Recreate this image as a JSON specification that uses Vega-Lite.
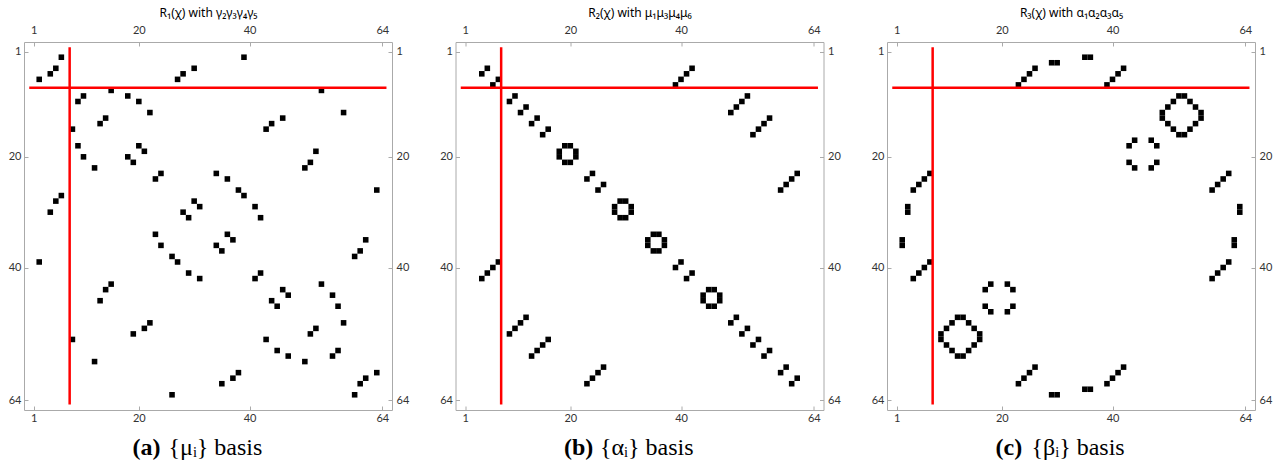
{
  "$schema": "https://vega.github.io/schema/vega-lite/v6.json",
  "background": "white",
  "padding": {"left": 7, "top": 5, "right": 5, "bottom": 0},
  "datasets": {
    "cells": [
      {"panel":"a","col":6,"row":2},{"panel":"a","col":5,"row":4},{"panel":"a","col":4,"row":5},{"panel":"a","col":2,"row":6},{"panel":"a","col":27,"row":6},{"panel":"a","col":28,"row":5},{"panel":"a","col":30,"row":4},{"panel":"a","col":15,"row":8},{"panel":"a","col":10,"row":9},{"panel":"a","col":9,"row":10},{"panel":"a","col":18,"row":9},{"panel":"a","col":20,"row":10},{"panel":"a","col":22,"row":12},{"panel":"a","col":14,"row":13},{"panel":"a","col":13,"row":14},{"panel":"a","col":8,"row":15},{"panel":"a","col":9,"row":18},{"panel":"a","col":20,"row":18},{"panel":"a","col":21,"row":19},{"panel":"a","col":10,"row":20},{"panel":"a","col":18,"row":20},{"panel":"a","col":19,"row":21},{"panel":"a","col":12,"row":22},{"panel":"a","col":24,"row":23},{"panel":"a","col":23,"row":24},{"panel":"a","col":6,"row":27},{"panel":"a","col":5,"row":28},{"panel":"a","col":4,"row":30},{"panel":"a","col":30,"row":28},{"panel":"a","col":31,"row":29},{"panel":"a","col":28,"row":30},{"panel":"a","col":29,"row":31},
      {"panel":"a","col":39,"row":2},{"panel":"a","col":53,"row":8},{"panel":"a","col":57,"row":12},{"panel":"a","col":46,"row":13},{"panel":"a","col":44,"row":14},{"panel":"a","col":43,"row":15},{"panel":"a","col":52,"row":19},{"panel":"a","col":51,"row":21},{"panel":"a","col":50,"row":22},{"panel":"a","col":34,"row":23},{"panel":"a","col":36,"row":24},{"panel":"a","col":38,"row":26},{"panel":"a","col":39,"row":27},{"panel":"a","col":41,"row":29},{"panel":"a","col":42,"row":31},{"panel":"a","col":63,"row":26},
      {"panel":"a","col":23,"row":34},{"panel":"a","col":24,"row":36},{"panel":"a","col":26,"row":38},{"panel":"a","col":27,"row":39},{"panel":"a","col":29,"row":41},{"panel":"a","col":31,"row":42},{"panel":"a","col":2,"row":39},{"panel":"a","col":15,"row":43},{"panel":"a","col":14,"row":44},{"panel":"a","col":13,"row":46},{"panel":"a","col":22,"row":50},{"panel":"a","col":21,"row":51},{"panel":"a","col":19,"row":52},{"panel":"a","col":8,"row":53},{"panel":"a","col":12,"row":57},{"panel":"a","col":26,"row":63},
      {"panel":"a","col":36,"row":34},{"panel":"a","col":37,"row":35},{"panel":"a","col":34,"row":36},{"panel":"a","col":35,"row":37},{"panel":"a","col":61,"row":35},{"panel":"a","col":60,"row":37},{"panel":"a","col":59,"row":38},{"panel":"a","col":42,"row":41},{"panel":"a","col":41,"row":42},{"panel":"a","col":53,"row":43},{"panel":"a","col":46,"row":44},{"panel":"a","col":47,"row":45},{"panel":"a","col":44,"row":46},{"panel":"a","col":45,"row":47},{"panel":"a","col":55,"row":45},{"panel":"a","col":56,"row":47},{"panel":"a","col":57,"row":50},{"panel":"a","col":52,"row":51},{"panel":"a","col":51,"row":52},{"panel":"a","col":43,"row":53},{"panel":"a","col":45,"row":55},{"panel":"a","col":47,"row":56},{"panel":"a","col":50,"row":57},{"panel":"a","col":55,"row":56},{"panel":"a","col":56,"row":55},{"panel":"a","col":38,"row":59},{"panel":"a","col":37,"row":60},{"panel":"a","col":35,"row":61},{"panel":"a","col":63,"row":59},{"panel":"a","col":61,"row":60},{"panel":"a","col":60,"row":61},{"panel":"a","col":59,"row":63},

      {"panel":"b","col":4,"row":5},{"panel":"b","col":5,"row":4},{"panel":"b","col":6,"row":7},{"panel":"b","col":7,"row":6},{"panel":"b","col":9,"row":10},{"panel":"b","col":10,"row":9},{"panel":"b","col":11,"row":12},{"panel":"b","col":12,"row":11},{"panel":"b","col":13,"row":14},{"panel":"b","col":14,"row":13},{"panel":"b","col":15,"row":16},{"panel":"b","col":16,"row":15},
      {"panel":"b","col":19,"row":18},{"panel":"b","col":20,"row":18},{"panel":"b","col":18,"row":19},{"panel":"b","col":21,"row":19},{"panel":"b","col":18,"row":20},{"panel":"b","col":21,"row":20},{"panel":"b","col":19,"row":21},{"panel":"b","col":20,"row":21},
      {"panel":"b","col":23,"row":24},{"panel":"b","col":24,"row":23},{"panel":"b","col":25,"row":26},{"panel":"b","col":26,"row":25},
      {"panel":"b","col":29,"row":28},{"panel":"b","col":30,"row":28},{"panel":"b","col":28,"row":29},{"panel":"b","col":31,"row":29},{"panel":"b","col":28,"row":30},{"panel":"b","col":31,"row":30},{"panel":"b","col":29,"row":31},{"panel":"b","col":30,"row":31},
      {"panel":"b","col":35,"row":34},{"panel":"b","col":36,"row":34},{"panel":"b","col":34,"row":35},{"panel":"b","col":37,"row":35},{"panel":"b","col":34,"row":36},{"panel":"b","col":37,"row":36},{"panel":"b","col":35,"row":37},{"panel":"b","col":36,"row":37},
      {"panel":"b","col":39,"row":40},{"panel":"b","col":40,"row":39},{"panel":"b","col":41,"row":42},{"panel":"b","col":42,"row":41},
      {"panel":"b","col":45,"row":44},{"panel":"b","col":46,"row":44},{"panel":"b","col":44,"row":45},{"panel":"b","col":47,"row":45},{"panel":"b","col":44,"row":46},{"panel":"b","col":47,"row":46},{"panel":"b","col":45,"row":47},{"panel":"b","col":46,"row":47},
      {"panel":"b","col":49,"row":50},{"panel":"b","col":50,"row":49},{"panel":"b","col":51,"row":52},{"panel":"b","col":52,"row":51},{"panel":"b","col":53,"row":54},{"panel":"b","col":54,"row":53},{"panel":"b","col":55,"row":56},{"panel":"b","col":56,"row":55},{"panel":"b","col":58,"row":59},{"panel":"b","col":59,"row":58},{"panel":"b","col":60,"row":61},{"panel":"b","col":61,"row":60},
      {"panel":"b","col":42,"row":4},{"panel":"b","col":41,"row":5},{"panel":"b","col":40,"row":6},{"panel":"b","col":39,"row":7},{"panel":"b","col":52,"row":9},{"panel":"b","col":51,"row":10},{"panel":"b","col":50,"row":11},{"panel":"b","col":49,"row":12},{"panel":"b","col":56,"row":13},{"panel":"b","col":55,"row":14},{"panel":"b","col":54,"row":15},{"panel":"b","col":53,"row":16},{"panel":"b","col":61,"row":23},{"panel":"b","col":60,"row":24},{"panel":"b","col":59,"row":25},{"panel":"b","col":58,"row":26},
      {"panel":"b","col":7,"row":39},{"panel":"b","col":6,"row":40},{"panel":"b","col":5,"row":41},{"panel":"b","col":4,"row":42},{"panel":"b","col":12,"row":49},{"panel":"b","col":11,"row":50},{"panel":"b","col":10,"row":51},{"panel":"b","col":9,"row":52},{"panel":"b","col":16,"row":53},{"panel":"b","col":15,"row":54},{"panel":"b","col":14,"row":55},{"panel":"b","col":13,"row":56},{"panel":"b","col":26,"row":58},{"panel":"b","col":25,"row":59},{"panel":"b","col":24,"row":60},{"panel":"b","col":23,"row":61},

      {"panel":"c","col":23,"row":7},{"panel":"c","col":24,"row":6},{"panel":"c","col":25,"row":5},{"panel":"c","col":26,"row":4},{"panel":"c","col":29,"row":3},{"panel":"c","col":30,"row":3},{"panel":"c","col":35,"row":2},{"panel":"c","col":36,"row":2},{"panel":"c","col":39,"row":7},{"panel":"c","col":40,"row":6},{"panel":"c","col":41,"row":5},{"panel":"c","col":42,"row":4},
      {"panel":"c","col":52,"row":9},{"panel":"c","col":53,"row":9},{"panel":"c","col":51,"row":10},{"panel":"c","col":54,"row":10},{"panel":"c","col":50,"row":11},{"panel":"c","col":55,"row":11},{"panel":"c","col":49,"row":12},{"panel":"c","col":56,"row":12},{"panel":"c","col":49,"row":13},{"panel":"c","col":56,"row":13},{"panel":"c","col":50,"row":14},{"panel":"c","col":55,"row":14},{"panel":"c","col":51,"row":15},{"panel":"c","col":54,"row":15},{"panel":"c","col":52,"row":16},{"panel":"c","col":53,"row":16},
      {"panel":"c","col":44,"row":17},{"panel":"c","col":43,"row":18},{"panel":"c","col":47,"row":17},{"panel":"c","col":48,"row":18},{"panel":"c","col":43,"row":21},{"panel":"c","col":44,"row":22},{"panel":"c","col":48,"row":21},{"panel":"c","col":47,"row":22},
      {"panel":"c","col":61,"row":23},{"panel":"c","col":60,"row":24},{"panel":"c","col":59,"row":25},{"panel":"c","col":58,"row":26},{"panel":"c","col":63,"row":29},{"panel":"c","col":63,"row":30},{"panel":"c","col":62,"row":35},{"panel":"c","col":62,"row":36},{"panel":"c","col":61,"row":39},{"panel":"c","col":60,"row":40},{"panel":"c","col":59,"row":41},{"panel":"c","col":58,"row":42},
      {"panel":"c","col":7,"row":23},{"panel":"c","col":6,"row":24},{"panel":"c","col":5,"row":25},{"panel":"c","col":4,"row":26},{"panel":"c","col":3,"row":29},{"panel":"c","col":3,"row":30},{"panel":"c","col":2,"row":35},{"panel":"c","col":2,"row":36},{"panel":"c","col":7,"row":39},{"panel":"c","col":6,"row":40},{"panel":"c","col":5,"row":41},{"panel":"c","col":4,"row":42},
      {"panel":"c","col":18,"row":43},{"panel":"c","col":17,"row":44},{"panel":"c","col":21,"row":43},{"panel":"c","col":22,"row":44},{"panel":"c","col":17,"row":47},{"panel":"c","col":18,"row":48},{"panel":"c","col":22,"row":47},{"panel":"c","col":21,"row":48},
      {"panel":"c","col":12,"row":49},{"panel":"c","col":13,"row":49},{"panel":"c","col":11,"row":50},{"panel":"c","col":14,"row":50},{"panel":"c","col":10,"row":51},{"panel":"c","col":15,"row":51},{"panel":"c","col":9,"row":52},{"panel":"c","col":16,"row":52},{"panel":"c","col":9,"row":53},{"panel":"c","col":16,"row":53},{"panel":"c","col":10,"row":54},{"panel":"c","col":15,"row":54},{"panel":"c","col":11,"row":55},{"panel":"c","col":14,"row":55},{"panel":"c","col":12,"row":56},{"panel":"c","col":13,"row":56},
      {"panel":"c","col":26,"row":58},{"panel":"c","col":25,"row":59},{"panel":"c","col":24,"row":60},{"panel":"c","col":23,"row":61},{"panel":"c","col":29,"row":63},{"panel":"c","col":30,"row":63},{"panel":"c","col":35,"row":62},{"panel":"c","col":36,"row":62},{"panel":"c","col":42,"row":58},{"panel":"c","col":41,"row":59},{"panel":"c","col":40,"row":60},{"panel":"c","col":39,"row":61}
    ],
    "guides": [
      {"x": 7.5, "x2": 7.5, "y": 0.2, "y2": 64.75},
      {"x": 0.2, "x2": 64.75, "y": 7.5, "y2": 7.5}
    ]
  },
  "config": {
    "view": {"stroke": "#aaaaaa", "strokeWidth": 1},
    "axis": {
      "grid": false,
      "domain": false,
      "tickColor": "#aaaaaa",
      "tickSize": -4,
      "labelPadding": 8,
      "labelFont": "Lato",
      "labelFontSize": 11,
      "labelColor": "#333333",
      "titleFont": "Noto Sans",
      "titleFontSize": 12,
      "titleFontWeight": "normal",
      "titleColor": "#000000"
    }
  },
  "spacing": 63.5,
  "bounds": "flush",
  "hconcat": [
    {
      "width": 368, "height": 368,
      "layer": [
        {
          "data": {"name": "cells"},
          "transform": [{"filter": "datum.panel === 'a'"}],
          "mark": {"type": "point", "shape": "square", "filled": true, "color": "#000000", "opacity": 1, "size": 31, "strokeWidth": 0},
          "encoding": {
            "x": {"field": "col", "type": "quantitative", "scale": {"domain": [-0.75, 65.75], "nice": false, "zero": false},
                  "axis": {"orient": "bottom", "values": [1, 20, 40, 64], "labelPadding": 6, "title": "{μᵢ} basis", "titleFont": "Liberation Serif", "titleFontSize": 24, "titleAlign": "left", "titleX": 144, "titleY": 44, "titleBaseline": "alphabetic"}},
            "y": {"field": "row", "type": "quantitative", "scale": {"domain": [-0.75, 65.75], "reverse": true, "nice": false, "zero": false},
                  "axis": {"orient": "left", "values": [1, 20, 40, 64], "labelPadding": 7, "title": "(a)", "titleAngle": 0, "titleFont": "Liberation Serif", "titleFontSize": 24, "titleFontWeight": "bold", "titleAlign": "left", "titleX": 108, "titleY": 412, "titleBaseline": "alphabetic"}}
          }
        },
        {
          "data": {"name": "guides"},
          "mark": {"type": "rule", "color": "#ff0000", "strokeWidth": 2.5},
          "encoding": {
            "x": {"field": "x", "type": "quantitative", "scale": {"domain": [-0.75, 65.75], "nice": false, "zero": false},
                  "axis": {"orient": "top", "values": [1, 20, 40, 64], "labelPadding": 11, "title": "R₁(χ) with γ₂γ₃γ₄γ₅", "titlePadding": 5}},
            "x2": {"field": "x2"},
            "y": {"field": "y", "type": "quantitative", "scale": {"domain": [-0.75, 65.75], "reverse": true, "nice": false, "zero": false},
                  "axis": {"orient": "right", "values": [1, 20, 40, 64], "title": null}},
            "y2": {"field": "y2"}
          }
        }
      ],
      "resolve": {"axis": {"x": "independent", "y": "independent"}}
    },
    {
      "width": 368, "height": 368,
      "layer": [
        {
          "data": {"name": "cells"},
          "transform": [{"filter": "datum.panel === 'b'"}],
          "mark": {"type": "point", "shape": "square", "filled": true, "color": "#000000", "opacity": 1, "size": 31, "strokeWidth": 0},
          "encoding": {
            "x": {"field": "col", "type": "quantitative", "scale": {"domain": [-0.75, 65.75], "nice": false, "zero": false},
                  "axis": {"orient": "bottom", "values": [1, 20, 40, 64], "labelPadding": 6, "title": "{αᵢ} basis", "titleFont": "Liberation Serif", "titleFontSize": 24, "titleAlign": "left", "titleX": 144, "titleY": 44, "titleBaseline": "alphabetic"}},
            "y": {"field": "row", "type": "quantitative", "scale": {"domain": [-0.75, 65.75], "reverse": true, "nice": false, "zero": false},
                  "axis": {"orient": "left", "values": [1, 20, 40, 64], "labelPadding": 7, "title": "(b)", "titleAngle": 0, "titleFont": "Liberation Serif", "titleFontSize": 24, "titleFontWeight": "bold", "titleAlign": "left", "titleX": 108, "titleY": 412, "titleBaseline": "alphabetic"}}
          }
        },
        {
          "data": {"name": "guides"},
          "mark": {"type": "rule", "color": "#ff0000", "strokeWidth": 2.5},
          "encoding": {
            "x": {"field": "x", "type": "quantitative", "scale": {"domain": [-0.75, 65.75], "nice": false, "zero": false},
                  "axis": {"orient": "top", "values": [1, 20, 40, 64], "labelPadding": 11, "title": "R₂(χ) with μ₁μ₃μ₄μ₆", "titlePadding": 5}},
            "x2": {"field": "x2"},
            "y": {"field": "y", "type": "quantitative", "scale": {"domain": [-0.75, 65.75], "reverse": true, "nice": false, "zero": false},
                  "axis": {"orient": "right", "values": [1, 20, 40, 64], "title": null}},
            "y2": {"field": "y2"}
          }
        }
      ],
      "resolve": {"axis": {"x": "independent", "y": "independent"}}
    },
    {
      "width": 368, "height": 368,
      "layer": [
        {
          "data": {"name": "cells"},
          "transform": [{"filter": "datum.panel === 'c'"}],
          "mark": {"type": "point", "shape": "square", "filled": true, "color": "#000000", "opacity": 1, "size": 31, "strokeWidth": 0},
          "encoding": {
            "x": {"field": "col", "type": "quantitative", "scale": {"domain": [-0.75, 65.75], "nice": false, "zero": false},
                  "axis": {"orient": "bottom", "values": [1, 20, 40, 64], "labelPadding": 6, "title": "{βᵢ} basis", "titleFont": "Liberation Serif", "titleFontSize": 24, "titleAlign": "left", "titleX": 144, "titleY": 44, "titleBaseline": "alphabetic"}},
            "y": {"field": "row", "type": "quantitative", "scale": {"domain": [-0.75, 65.75], "reverse": true, "nice": false, "zero": false},
                  "axis": {"orient": "left", "values": [1, 20, 40, 64], "labelPadding": 7, "title": "(c)", "titleAngle": 0, "titleFont": "Liberation Serif", "titleFontSize": 24, "titleFontWeight": "bold", "titleAlign": "left", "titleX": 108, "titleY": 412, "titleBaseline": "alphabetic"}}
          }
        },
        {
          "data": {"name": "guides"},
          "mark": {"type": "rule", "color": "#ff0000", "strokeWidth": 2.5},
          "encoding": {
            "x": {"field": "x", "type": "quantitative", "scale": {"domain": [-0.75, 65.75], "nice": false, "zero": false},
                  "axis": {"orient": "top", "values": [1, 20, 40, 64], "labelPadding": 11, "title": "R₃(χ) with α₁α₂α₃α₅", "titlePadding": 5}},
            "x2": {"field": "x2"},
            "y": {"field": "y", "type": "quantitative", "scale": {"domain": [-0.75, 65.75], "reverse": true, "nice": false, "zero": false},
                  "axis": {"orient": "right", "values": [1, 20, 40, 64], "title": null}},
            "y2": {"field": "y2"}
          }
        }
      ],
      "resolve": {"axis": {"x": "independent", "y": "independent"}}
    }
  ]
}
